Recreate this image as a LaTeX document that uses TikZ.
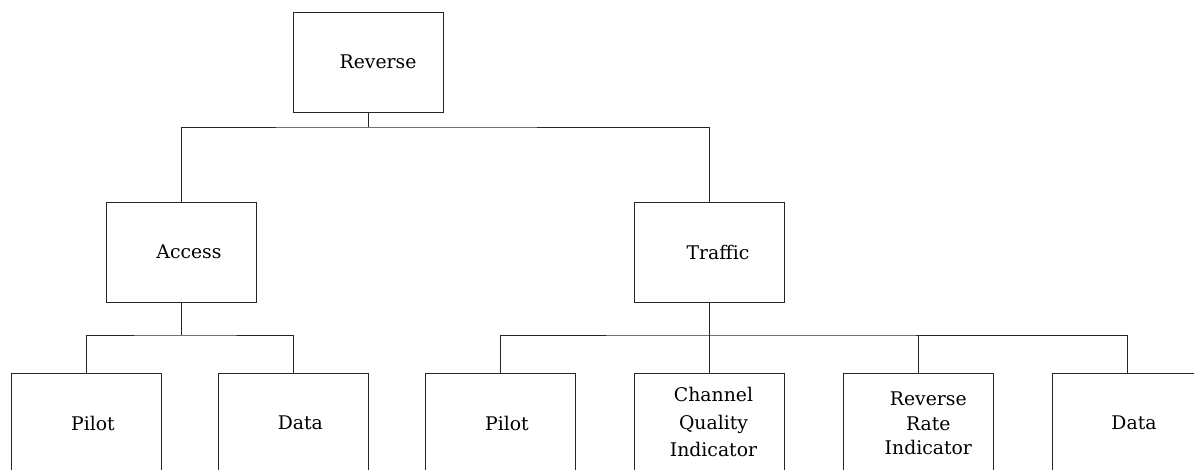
\documentclass[tikz,border=0pt]{standalone}
\usepackage{fontspec}
\setmainfont{DejaVu Serif}
\begin{document}
\begin{tikzpicture}[x=1pt,y=-1pt,
  box/.style={draw=black!85, line width=0.8pt, minimum width=150pt, minimum height=100pt, inner sep=0pt},
  lbl/.style={font=\fontsize{18.8pt}{25pt}\selectfont, align=center, inner sep=0pt, text=black},
  conn/.style={draw=black!85, line width=0.8pt}]
\clip (0,0) rectangle (1194,470);
\fill[white] (0,0) rectangle (1194,470);
% boxes
\node[box] (top) at (368,62) {};
\node[box] (access) at (181,252) {};
\node[box] (traffic) at (709.5,252) {};
\node[box] (pilotA) at (86,423) {};
\node[box] (dataA) at (293.3,423) {};
\node[box] (pilotT) at (500,423) {};
\node[box] (cqi) at (709.5,423) {};
\node[box] (rri) at (918.3,423) {};
\node[box] (dataT) at (1127,423) {};
% labels
\node[lbl] (ltop) at ([xshift=10pt]top.center) {Reverse};
\node[lbl] (laccess) at ([xshift=8pt]access.center) {Access};
\node[lbl] (ltraffic) at ([xshift=8.5pt]traffic.center) {Traffic};
\node[lbl] (lpilotA) at ([xshift=7pt]pilotA.center) {Pilot};
\node[lbl] (ldataA) at ([xshift=7pt]dataA.center) {Data};
\node[lbl] (lpilotT) at ([xshift=7pt]pilotT.center) {Pilot};
\node[lbl, font=\fontsize{18.8pt}{27.5pt}\selectfont] (lcqi) at ([xshift=4pt,yshift=1pt]cqi.center) {Channel\\Quality\\Indicator};
\node[lbl, font=\fontsize{18.8pt}{24.7pt}\selectfont] (lrri) at ([xshift=10pt,yshift=-0.5pt]rri.center) {Reverse\\Rate\\Indicator};
\node[lbl] (ldataT) at ([xshift=7pt]dataT.center) {Data};
% bus points
\coordinate (bus1) at (368,127);
\coordinate (busA) at (181,335);
\coordinate (busT) at (709.5,335);
% connectors
\draw[conn] (top.south) -- (bus1);
\draw[conn] (access.north) |- (bus1) -| (traffic.north);
\draw[conn] (access.south) -- (busA);
\draw[conn] (pilotA.north) |- (busA) -| (dataA.north);
\draw[conn] (traffic.south) -- (busT);
\draw[conn] (pilotT.north) |- (busT) -| (dataT.north);
\draw[conn] (cqi.north) -- (busT);
\draw[conn] (rri.north) -- (rri.north |- busT);
\end{tikzpicture}
\end{document}
